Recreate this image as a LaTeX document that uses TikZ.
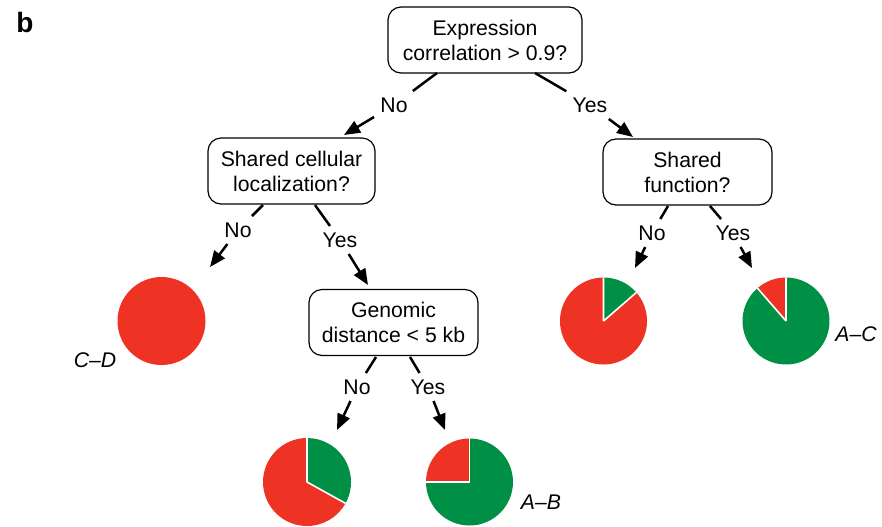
\documentclass[tikz,border=0pt]{standalone}
\usepackage{fontspec}
\setmainfont{Liberation Sans}
\usetikzlibrary{arrows.meta}
\definecolor{pied}{HTML}{EE3224}
\definecolor{pieg}{HTML}{009045}

\begin{document}
\begin{tikzpicture}[x=0.5pt,y=0.5pt,
  question/.style={draw, rounded corners=6.5pt, line width=0.6pt,
    minimum width=84.5pt, minimum height=33pt, align=center, inner sep=2pt,
    font=\fontsize{10.6}{12.5}\selectfont},
  answer/.style={inner sep=3pt, text height=7.6pt, text depth=0pt,
    font=\fontsize{10.6}{12.5}\selectfont},
  branch/.style={line width=1.25pt},
  arrowto/.style={line width=1.25pt, -{Triangle[length=8pt,width=6.5pt]}},
  pairlabel/.style={font=\fontsize{10.6}{12.5}\selectfont\itshape},
  sep/.style={white, line width=0.8pt}]
\useasboundingbox (0,0) rectangle (882,-526);

% panel letter
\node[font=\fontsize{14}{16}\selectfont\bfseries] (panel) at (25,-22) {b};

% decision boxes
\node[question, minimum width=97pt] (q1) at (485,-40) {Expression\\correlation > 0.9?};
\node[question, minimum width=83.5pt] (q2) at (291.5,-171) {Shared cellular\\localization?};
\node[question] (q3) at (687.5,-172) {Shared\\function?};
\node[question] (q4) at (393.5,-322.5) {Genomic\\distance < 5 kb};

% outcome pies
\coordinate (pcd) at (161.5,-321);
\fill[pied] (pcd) circle[radius=44];

\coordinate (png) at (307,-482);
\fill[pied] (png) -- ++(90:44) arc[start angle=90,end angle=331,radius=44] -- cycle;
\fill[pieg] (png) -- ++(-29:44) arc[start angle=-29,end angle=90,radius=44] -- cycle;
\draw[sep] (png) -- ++(90:44) (png) -- ++(-29:44);

\coordinate (pyg) at (469.5,-482);
\fill[pieg] (pyg) -- ++(180:43.5) arc[start angle=180,end angle=450,radius=43.5] -- cycle;
\fill[pied] (pyg) -- ++(90:43.5) arc[start angle=90,end angle=180,radius=43.5] -- cycle;
\draw[sep] (pyg) -- ++(90:43.5) (pyg) -- ++(180:43.5);

\coordinate (pnf) at (603.5,-321);
\fill[pied] (pnf) -- ++(90:43.5) arc[start angle=90,end angle=401,radius=43.5] -- cycle;
\fill[pieg] (pnf) -- ++(41:43.5) arc[start angle=41,end angle=90,radius=43.5] -- cycle;
\draw[sep] (pnf) -- ++(90:43.5) (pnf) -- ++(41:43.5);

\coordinate (pyf) at (786,-321);
\fill[pieg] (pyf) -- ++(131:43.5) arc[start angle=131,end angle=450,radius=43.5] -- cycle;
\fill[pied] (pyf) -- ++(90:43.5) arc[start angle=90,end angle=131,radius=43.5] -- cycle;
\draw[sep] (pyf) -- ++(90:43.5) (pyf) -- ++(131:43.5);

% pair labels
\node[pairlabel] (lcd) at (95,-360) {C–D};
\node[pairlabel] (lab) at (541,-502) {A–B};
\node[pairlabel] (lac) at (856,-334) {A–C};

% branches: start on the box, pass the answer, arrow toward the child
\coordinate (s1n) at (437,-73);  \node[answer] (a1n) at (394,-105) {No};  \coordinate (t1n) at (344,-135);
\coordinate (s1y) at (535,-73);  \node[answer] (a1y) at (590,-105) {Yes}; \coordinate (t1y) at (633,-137);
\coordinate (s2n) at (263,-205); \node[answer] (a2n) at (238,-230) {No};  \coordinate (t2n) at (210,-267);
\coordinate (s2y) at (315,-205); \node[answer] (a2y) at (340,-240) {Yes}; \coordinate (t2y) at (368,-285);
\coordinate (s3n) at (668,-206); \node[answer] (a3n) at (652,-233) {No};  \coordinate (t3n) at (635,-268);
\coordinate (s3y) at (710,-206); \node[answer] (a3y) at (733,-233) {Yes}; \coordinate (t3y) at (752,-268);
\coordinate (s4n) at (376,-357); \node[answer] (a4n) at (357,-387) {No};  \coordinate (t4n) at (337,-430);
\coordinate (s4y) at (410,-357); \node[answer] (a4y) at (428,-387) {Yes}; \coordinate (t4y) at (445,-430);

\foreach \e in {1n,1y,2n,2y,3n,3y,4n,4y}{
  \draw[branch] (s\e) -- (a\e);
  \draw[arrowto] (a\e) -- (t\e);
}
\end{tikzpicture}
\end{document}
